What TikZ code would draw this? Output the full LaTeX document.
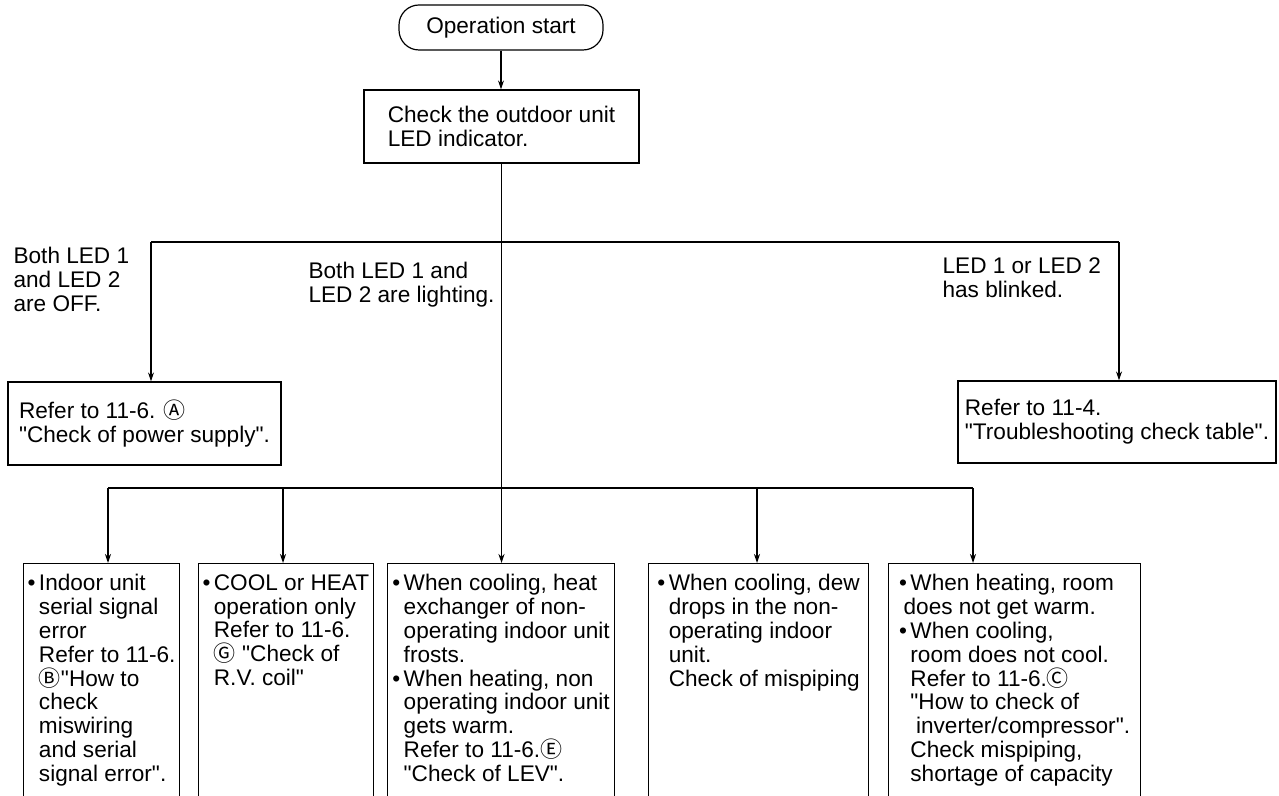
\documentclass[tikz,border=0pt]{standalone}
\usepackage{fontspec}
\setmainfont{Liberation Sans}[Ligatures=TeXOff]
\newfontfamily\circfont{Noto Sans CJK JP}
\usepackage{tikz}
\usetikzlibrary{arrows.meta, positioning}
\newcommand{\mk}[1]{{\circfont\fontsize{11}{11}\selectfont #1}}
\newcommand{\ind}{\hspace*{0.5em}}
\newcommand{\bul}{•\hspace{0.15em}}

\begin{document}
\begin{tikzpicture}[x=0.5pt, y=-0.5pt, line width=0.6pt, >={Stealth[length=4.5pt, width=3pt]},
    font=\fontsize{11.3}{11.9}\selectfont, every node/.style={align=left},
    flowbox/.style={draw, rectangle, inner xsep=3pt},
    lowbox/.style={draw, anchor=north west, inner xsep=2pt, inner ysep=5.5pt, text depth=110pt},
    lbl/.style={anchor=north west, inner sep=0pt}]
    \path[use as bounding box] (0,0) rectangle (1279,796);
    \clip (0,0) rectangle (1279,796);

    \node[draw, rounded corners=10pt, minimum width=102pt, minimum height=22.5pt] (start) at ({501},{27.5}) {Operation start};
    \node[flowbox, minimum width=137.5pt, minimum height=36.5pt] (check) at ({501.5},{126.5}) {Check the outdoor unit\\LED indicator.};
    \draw[->] (start.south) -- (start.south |- check.north);

    % first branching
    \node[flowbox, minimum width=136.5pt, minimum height=41.5pt] (lbox) at ({144.5},{423.5}) {Refer to 11-6. \mk{Ⓐ}\\"Check of power supply".};
    \node[flowbox, minimum width=159pt, minimum height=41pt] (rbox) at ({1117},{422}) {Refer to 11-4.\\"Troubleshooting check table".};
    \coordinate (ta) at ({151},{242});
    \coordinate (tb) at ({1119},{242});
    \draw (ta) -- (tb);
    \draw[->] (ta) -- (ta |- lbox.north);
    \draw[->] (tb) -- (tb |- rbox.north);

    \node[lbl] (offlbl) at ({13},{247}) {Both LED 1\\and LED 2\\are OFF.};
    \node[lbl] (onlbl) at ({308},{262}) {Both LED 1 and\\LED 2 are lighting.};
    \node[lbl] (blinklbl) at ({942},{257}) {LED 1 or LED 2\\has blinked.};

    % lower row
    \node[lowbox, minimum width=78pt] (b1) at ({23},{563}) {\bul Indoor unit\\\ind serial signal\\\ind error\\\ind Refer to 11-6.\\\ind \mk{Ⓑ}"How to\\\ind check\\\ind miswiring\\\ind and serial\\\ind signal error".};
    \node[lowbox, minimum width=85pt] (b2) at ({198},{563}) {\bul COOL or HEAT\\\ind operation only\\\ind Refer to 11-6.\\\ind \mk{Ⓖ} "Check of\\\ind R.V. coil"};
    \node[lowbox, minimum width=113.5pt] (b3) at ({387},{563}) {\bul When cooling, heat\\\ind exchanger of non-\\\ind operating indoor unit\\\ind frosts.\\\bul When heating, non\\\ind operating indoor unit\\\ind gets warm.\\\ind Refer to 11-6.\mk{Ⓔ}\\\ind "Check of LEV".};
    \node[lowbox, minimum width=110pt] (b4) at ({648},{563}) {\bul When cooling, dew\\\ind drops in the non-\\\ind operating indoor\\\ind unit.\\\ind Check of mispiping};
    \node[lowbox, minimum width=126pt] (b5) at ({888},{563}) {\bul When heating, room\\\hspace*{0.2em}does not get warm.\\\bul When cooling,\\\ind room does not cool.\\\ind Refer to 11-6.\mk{Ⓒ}\\\ind "How to check of\\\ind\hspace*{0.25em}inverter/compressor".\\\ind Check mispiping,\\\ind shortage of capacity};

    \draw[->] (check.south) -- (check.south |- b3.north);
    \coordinate (s1) at ({108},{488});
    \coordinate (s2) at ({283},{488});
    \coordinate (s4) at ({757},{488});
    \coordinate (s5) at ({973},{488});
    \draw (s1) -- (s5);
    \draw[->] (s1) -- (s1 |- b1.north);
    \draw[->] (s2) -- (s2 |- b2.north);
    \draw[->] (s4) -- (s4 |- b4.north);
    \draw[->] (s5) -- (s5 |- b5.north);
\end{tikzpicture}
\end{document}
